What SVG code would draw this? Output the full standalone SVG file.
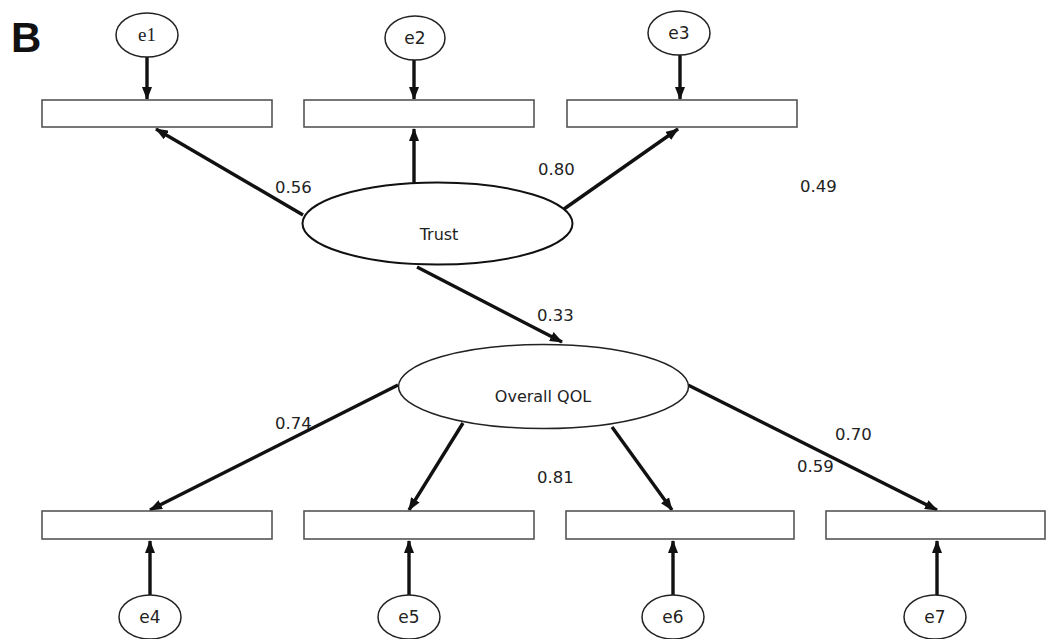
<svg xmlns="http://www.w3.org/2000/svg" width="1047" height="639" viewBox="0 0 1047 639">
<style>
.box{fill:#fff;stroke:#555;stroke-width:1.6}
.ell{fill:#fff;stroke:#222;stroke-width:1.5}
.lv{fill:#fff;stroke:#111;stroke-width:2}
.arr{stroke:#111;stroke-width:3.4;fill:none;marker-end:url(#ah)}
.t{font-family:"DejaVu Sans",Verdana,sans-serif;font-size:16px;fill:#222}
.e{font-family:"DejaVu Sans",Verdana,sans-serif;font-size:17px;fill:#222}
.n{font-family:"DejaVu Sans",Verdana,sans-serif;font-size:16.5px;fill:#222}
</style>
<defs>
<marker id="ah" markerUnits="userSpaceOnUse" viewBox="0 0 13 10" refX="12" refY="5" markerWidth="13" markerHeight="10" orient="auto">
<path d="M0,0 L13,5 L0,10 Z" fill="#111"/>
</marker>
</defs>
<rect width="1047" height="639" fill="#fff"/>
<text x="11" y="52" font-family="Liberation Sans,Arial,sans-serif" font-weight="bold" font-size="42" fill="#111">B</text>

<g id="connectors">
<line class="arr" x1="147" y1="57" x2="147" y2="99"/>
<line class="arr" x1="414" y1="60" x2="414" y2="99"/>
<line class="arr" x1="680" y1="55" x2="680" y2="99"/>
<line class="arr" x1="303" y1="215" x2="156" y2="129"/>
<line class="arr" x1="414" y1="183" x2="414" y2="129"/>
<line class="arr" x1="564" y1="209" x2="678" y2="129"/>
<line class="arr" x1="417" y1="267" x2="562" y2="342"/>
<line class="arr" x1="398" y1="385" x2="150" y2="510"/>
<line class="arr" x1="463" y1="423" x2="409" y2="510"/>
<line class="arr" x1="612" y1="427" x2="672" y2="510"/>
<line class="arr" x1="688" y1="385" x2="937" y2="510"/>
<line class="arr" x1="150" y1="595" x2="150" y2="541"/>
<line class="arr" x1="409" y1="595" x2="409" y2="541"/>
<line class="arr" x1="673" y1="595" x2="673" y2="541"/>
<line class="arr" x1="937" y1="595" x2="937" y2="541"/>
</g>

<g id="r1"><rect class="box" x="42" y="100" width="230" height="27"/></g>
<g id="r2"><rect class="box" x="304" y="100" width="230" height="27"/></g>
<g id="r3"><rect class="box" x="567" y="100" width="230" height="27"/></g>
<g id="r4"><rect class="box" x="42" y="511" width="230" height="28"/></g>
<g id="r5"><rect class="box" x="304" y="511" width="230" height="28"/></g>
<g id="r6"><rect class="box" x="566" y="511" width="228" height="28"/></g>
<g id="r7"><rect class="box" x="826" y="511" width="219" height="28"/></g>

<g id="e1"><ellipse class="ell" cx="147" cy="35" rx="31" ry="22"/><text x="147" y="41" text-anchor="middle" font-family="Liberation Serif,serif" font-size="19" fill="#222">e1</text></g>
<g id="e2"><ellipse class="ell" cx="415" cy="38" rx="30" ry="22"/><text class="e" x="415" y="44" text-anchor="middle">e2</text></g>
<g id="e3"><ellipse class="ell" cx="679" cy="33" rx="31" ry="22"/><text class="e" x="679" y="39" text-anchor="middle">e3</text></g>
<g id="e4"><ellipse class="ell" cx="150" cy="617" rx="31" ry="22"/><text class="e" x="150" y="623" text-anchor="middle">e4</text></g>
<g id="e5"><ellipse class="ell" cx="409" cy="617" rx="31" ry="22"/><text class="e" x="409" y="623" text-anchor="middle">e5</text></g>
<g id="e6"><ellipse class="ell" cx="673" cy="617" rx="31" ry="22"/><text class="e" x="673" y="623" text-anchor="middle">e6</text></g>
<g id="e7"><ellipse class="ell" cx="935" cy="617" rx="31" ry="22"/><text class="e" x="935" y="623" text-anchor="middle">e7</text></g>

<g id="trust"><ellipse class="lv" cx="437.5" cy="223.5" rx="135" ry="41"/><text class="t" x="439" y="240" text-anchor="middle">Trust</text></g>
<g id="qol"><ellipse class="ell" cx="543.5" cy="386.5" rx="145" ry="42"/><text class="t" x="543" y="402" text-anchor="middle">Overall QOL</text></g>

<g id="labels">
<text class="n" x="275" y="193">0.56</text>
<text class="n" x="538" y="175">0.80</text>
<text class="n" x="800" y="192">0.49</text>
<text class="n" x="537" y="321">0.33</text>
<text class="n" x="275" y="429">0.74</text>
<text class="n" x="537" y="483">0.81</text>
<text class="n" x="835" y="440">0.70</text>
<text class="n" x="797" y="472">0.59</text>
</g>
</svg>
